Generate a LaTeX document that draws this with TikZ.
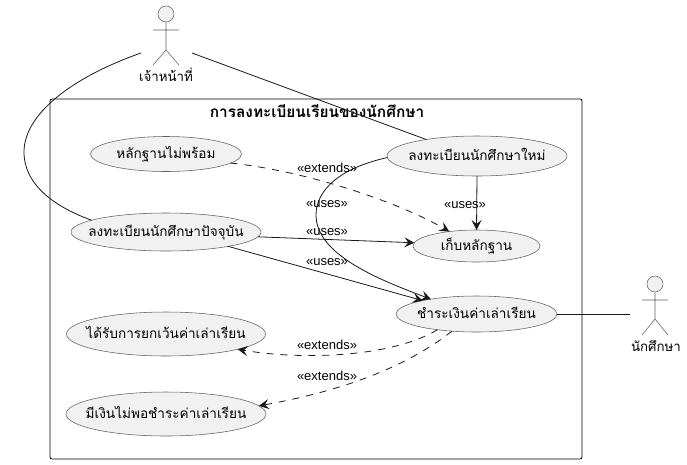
\documentclass[tikz,border=0pt]{standalone}
\usepackage{fontspec}
\setmainfont{Liberation Sans}
\newfontfamily\thaifont[Script=Thai]{Loma}
\usetikzlibrary{shapes.geometric,arrows.meta}
\definecolor{ucfill}{HTML}{F1F1F1}
\definecolor{ucline}{HTML}{606060}
\definecolor{linkc}{HTML}{181818}
\newcommand{\uctext}[1]{\smash{\raisebox{-4.5pt}{\makebox[0pt]{#1}}}}
\tikzset{
  uc/.style={shape=ellipse,draw=ucline,fill=ucfill,line width=0.55pt,inner sep=0pt,outer sep=0pt,font=\thaifont\fontsize{13.6}{15}\selectfont,text=black},
  lbl/.style={inner sep=0pt,font=\fontsize{13}{15}\selectfont,text=black},
  thailbl/.style={inner sep=0pt,font=\thaifont\fontsize{13.3}{16}\selectfont,text=black},
  link/.style={draw=linkc,line width=0.8pt},
  tipped/.style={link,-{Stealth[length=10pt,width=10pt,inset=4pt]}},
  dashedtip/.style={tipped,dash pattern=on 7pt off 7pt},
  figure/.style={draw=ucline,line width=0.55pt},
  framebox/.style={draw=black,line width=0.8pt,rounded corners=2pt},
}
\begin{document}
\begin{tikzpicture}[x=1pt,y=-1pt]
\useasboundingbox (0,0) rectangle (687,464);
% system frame
\draw[framebox] (50,99) rectangle (582,459);
\node[thailbl,font=\thaifont\bfseries\fontsize{15.4}{18}\selectfont] (title) at (317,111.5) {การลงทะเบียนเรียนของนักศึกษา};
% use cases
\node[uc,minimum width=151pt,minimum height=35pt] (proofno) at (166,154) {\uctext{หลักฐานไม่พร้อม}};
\node[uc,minimum width=180pt,minimum height=40pt] (newreg) at (477,156) {\uctext{ลงทะเบียนนักศึกษาใหม่}};
\node[uc,minimum width=127pt,minimum height=32pt] (keep) at (476.5,246) {\uctext{เก็บหลักฐาน}};
\node[uc,minimum width=190pt,minimum height=38pt] (curreg) at (166,232) {\uctext{ลงทะเบียนนักศึกษาปัจจุบัน}};
\node[uc,minimum width=161pt,minimum height=36pt] (pay) at (476.5,314) {\uctext{ชำระเงินค่าเล่าเรียน}};
\node[uc,minimum width=199pt,minimum height=44pt] (waive) at (166,334) {\uctext{ได้รับการยกเว้นค่าเล่าเรียน}};
\node[uc,minimum width=200pt,minimum height=44pt] (short) at (166,414) {\uctext{มีเงินไม่พอชำระค่าเล่าเรียน}};
% actor: officer
\node[shape=circle,draw=ucline,fill=ucfill,line width=0.55pt,minimum size=16pt,inner sep=0pt] (ahead) at (166,14) {};
\draw[figure] (ahead.south) -- (166,50) (153,30) -- (179,30) (153,65) -- (166,50) -- (179,65);
\node[thailbl] (alabel) at (166,75) {เจ้าหน้าที่};
\coordinate (aleft) at (141,53);
\coordinate (aright) at (192,53);
% actor: student
\node[shape=circle,draw=ucline,fill=ucfill,line width=0.55pt,minimum size=16pt,inner sep=0pt] (shead) at (655,284) {};
\draw[figure] (shead.south) -- (655,319) (642,300) -- (668,300) (642,335) -- (655,319) -- (668,335);
\node[thailbl] (slabel) at (656,346) {นักศึกษา};
\coordinate (sleft) at (630,314);
% associations
\draw[link] (aleft) .. controls (70,78) and (24,115) .. (24,152) .. controls (24,185) and (55,207) .. (curreg.171.5);
\draw[link] (aright) -- (newreg.162);
\draw[link] (pay.east) -- (sleft);
% includes
\draw[tipped] (newreg.south) -- (keep.north);
\draw[tipped] (curreg.-3) -- (keep.177);
\draw[tipped] (curreg.-13) -- (pay.166);
\draw[tipped] (newreg.181) .. controls (340,168) and (316,190) .. (316,215) .. controls (316,255) and (380,280) .. (pay.162);
% extends
\draw[dashedtip] (proofno.-8) .. controls (300,170) and (395,200) .. (keep.152);
\draw[dashedtip] (pay.202.6) .. controls (390,358) and (300,360) .. (waive.-12.7);
\draw[dashedtip] (pay.215) .. controls (400,372) and (330,393) .. (short.5);
% labels
\node[lbl] (l1) at (327,168) {«extends»};
\node[lbl] (l2) at (327,204) {«uses»};
\node[lbl] (l3) at (327,232) {«uses»};
\node[lbl] (l4) at (327,262) {«uses»};
\node[lbl] (l5) at (465,205) {«uses»};
\node[lbl] (l6) at (327,345) {«extends»};
\node[lbl] (l7) at (327,376) {«extends»};
\end{tikzpicture}
\end{document}
